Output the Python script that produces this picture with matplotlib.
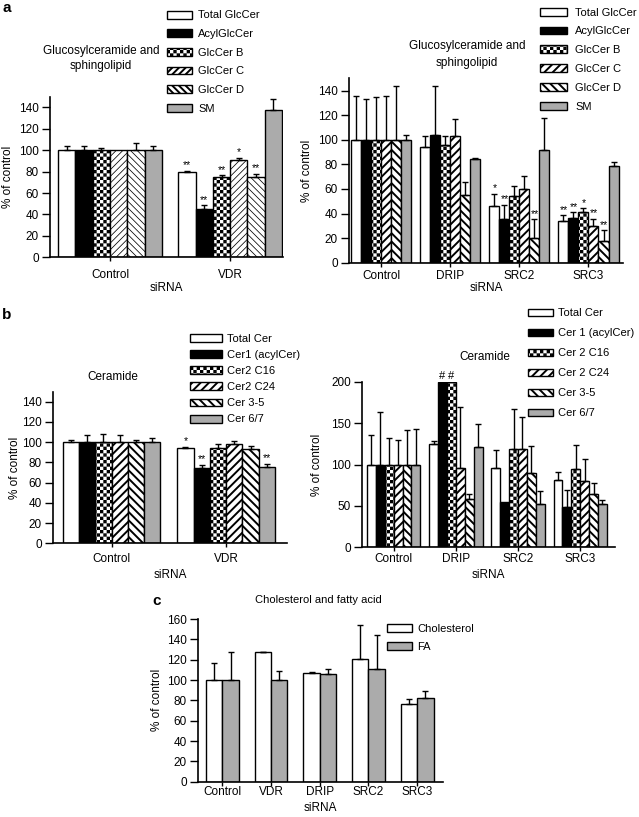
"""Lipid levels after siRNA knock-down: panels a (GlcCer/SM), b (ceramide), c (cholesterol/FA)."""
import numpy as np
import matplotlib
matplotlib.use("Agg")
import matplotlib.pyplot as plt
from matplotlib import hatch as mhatch
from matplotlib.path import Path

plt.rcParams["font.family"] = ["Liberation Sans", "DejaVu Sans"]
plt.rcParams["hatch.linewidth"] = 1.4

W, H = 639, 817

# ---- values (% of control) ----
glc_labels = ["Total GlcCer", "AcylGlcCer", "GlcCer B", "GlcCer C", "GlcCer D", "SM"]

a_left_groups = ["Control", "VDR"]
a_left_means = [[100, 79.5], [100, 45.0], [100, 75.4], [100, 90.4], [100, 75.0], [100, 137.3]]
a_left_errs = [[4.0, 1.0], [4.0, 3.4], [2.0, 1.0], [0.0, 2.4], [6.8, 3.0], [4.0, 10.3]]
a_left_marks = [["", "**"], ["", "**"], ["", "**"], ["", "*"], ["", "**"], ["", ""]]

a_right_groups = ["Control", "DRIP", "SRC2", "SRC3"]
a_right_means = [
    [100, 94.3, 46.4, 33.9],
    [100, 104.3, 35.3, 36.1],
    [100, 95.4, 54.5, 41.2],
    [100, 103.0, 60.2, 29.9],
    [100, 54.8, 20.4, 17.6],
    [100, 84.5, 91.6, 78.7],
]
a_right_errs = [
    [35.7, 8.7, 9.8, 4.6],
    [33.4, 39.5, 11.7, 4.9],
    [34.7, 8.1, 7.9, 3.0],
    [36.0, 14.0, 10.6, 5.7],
    [43.8, 11.2, 14.9, 8.7],
    [4.0, 0.5, 26.0, 3.3],
]
a_right_marks = [
    ["", "", "*", "**"],
    ["", "", "**", "**"],
    ["", "", "", "*"],
    ["", "", "", "**"],
    ["", "", "**", "**"],
    ["", "", "", ""],
]

b_left_labels = ["Total Cer", "Cer1 (acylCer)", "Cer2 C16", "Cer2 C24", "Cer 3-5", "Cer 6/7"]
b_left_groups = ["Control", "VDR"]
b_left_means = [[100, 94.7], [100, 74.0], [100, 94.7], [100, 98.0], [100, 93.0], [100, 75.6]]
b_left_errs = [[2.3, 0.4], [7.0, 3.3], [8.0, 3.7], [7.0, 3.6], [2.3, 3.4], [4.6, 3.0]]
b_left_marks = [["", "*"], ["", "**"], ["", ""], ["", ""], ["", ""], ["", "**"]]

b_right_labels = ["Total Cer", "Cer 1 (acylCer)", "Cer 2 C16", "Cer 2 C24", "Cer 3-5", "Cer 6/7"]
b_right_groups = ["Control", "DRIP", "SRC2", "SRC3"]
b_right_means = [
    [100, 124.6, 96.0, 81.5],
    [100, 200.0, 54.4, 48.8],
    [100, 200.0, 118.5, 94.4],
    [100, 95.6, 118.5, 80.2],
    [100, 58.5, 90.3, 64.1],
    [100, 120.6, 52.8, 52.8],
]
b_right_errs = [
    [35.5, 3.2, 21.7, 9.6],
    [64.0, 0.0, 0.0, 20.2],
    [31.9, 0.0, 48.8, 28.6],
    [29.0, 73.3, 38.4, 26.6],
    [41.5, 5.5, 31.5, 14.1],
    [42.3, 28.6, 15.7, 4.1],
]
b_right_marks = [
    ["", "", "", ""],
    ["", "#", "", ""],
    ["", "#", "", ""],
    ["", "", "", ""],
    ["", "", "", ""],
    ["", "", "", ""],
]

c_labels = ["Cholesterol", "FA"]
c_groups = ["Control", "VDR", "DRIP", "SRC2", "SRC3"]
c_means = [[100, 127.2, 106.9, 121.0, 76.7], [100, 100.0, 105.6, 111.1, 82.3]]
c_errs = [[17.0, 0.6, 1.1, 32.8, 4.9], [27.5, 9.0, 5.2, 33.5, 6.6]]
c_marks = [["", "", "", "", ""], ["", "", "", "", ""]]


# ---- chequerboard fill: takes over the 'O' hatch letter ----
class CheckerHatch(mhatch.HatchPatternBase):
    filled = True

    def __init__(self, hatch, density):
        self.cells = hatch.count("O") * density
        self.num_vertices = (self.cells * self.cells // 2) * 5

    def set_vertices_and_codes(self, vertices, codes):
        step = 1.0 / self.cells
        # the outline stroke widens each square, so shrink it by half a hatch line
        inset = plt.rcParams["hatch.linewidth"] / 72 / 2
        k = 0
        for i in range(self.cells):
            for j in range(self.cells):
                if (i + j) % 2:
                    continue
                x0, y0 = i * step + inset, j * step + inset
                x1, y1 = (i + 1) * step - inset, (j + 1) * step - inset
                vertices[k:k + 5] = [(x0, y0), (x1, y0), (x1, y1), (x0, y1), (x0, y0)]
                codes[k:k + 5] = [Path.MOVETO, Path.LINETO, Path.LINETO, Path.LINETO, Path.CLOSEPOLY]
                k += 5


mhatch._hatch_types = [CheckerHatch if t is mhatch.LargeCircles else t for t in mhatch._hatch_types]

GRAY = "#ababab"
six_colors = ["white", "black", "white", "white", "white", GRAY]
light_hatches = ["", "", "OOOOO", "/////", "\\\\\\\\\\", ""]
dark_hatches = ["", "", "OOOOO", "////", "\\\\\\\\", ""]

fig = plt.figure(figsize=(W / 100, H / 100), dpi=100)


def place_axes(left, top, right, bottom):
    return fig.add_axes([left / W, 1 - bottom / H, (right - left) / W, (bottom - top) / H])


def draw_panel(ax, box, groups, means, errs, marks, labels, colors, hatches, width,
               ylim, yticks, xlim, thin=False, xpad=3, ylabel_x=0, xlabel_y=0):
    left, top, right, bottom = box
    x = np.arange(len(groups))
    n = len(means)
    for i in range(n):
        pos = x + (i - (n - 1) / 2) * width
        bars = ax.bar(pos, means[i], width, color=colors[i], edgecolor="black", linewidth=1.0,
                      hatch=hatches[i] or None, label=labels[i], zorder=2)
        if thin and hatches[i] and hatches[i][0] in "/\\":
            for b in bars:
                if hasattr(b, "set_hatch_linewidth"):
                    b.set_hatch_linewidth(0.55)
        err = np.asarray(errs[i], float)
        val = np.asarray(means[i], float)
        keep = err > 0
        ax.errorbar(pos[keep], val[keep], yerr=[np.zeros(keep.sum()), err[keep]], fmt="none",
                    ecolor="black", elinewidth=1.0, capsize=2.5, capthick=1.0, zorder=3)
        for xi, yi, ei, m in zip(pos, val, err, marks[i]):
            if m:
                ax.annotate(m, (xi, yi + ei), xytext=(0, 0.5), textcoords="offset points",
                            ha="center", va="bottom", fontsize=8 if m.startswith("#") else 7.5)
    ax.set_xlim(*xlim)
    ax.set_ylim(*ylim)
    ax.set_yticks(yticks)
    ax.set_xticks(x, groups)
    ax.spines[["top", "right"]].set_visible(False)
    ax.spines[["left", "bottom"]].set_linewidth(1.2)
    ax.tick_params(axis="both", width=1.0, labelsize=8.5)
    ax.tick_params(axis="y", length=5.5, pad=2.5)
    ax.tick_params(axis="x", length=3, pad=xpad)
    ax.set_ylabel("% of control", fontsize=8.5)
    ax.set_xlabel("siRNA", fontsize=8.5)
    ax.yaxis.set_label_coords((ylabel_x + 6 - left) / (right - left), 0.5)
    ax.xaxis.set_label_coords(0.5, -(xlabel_y - 6 - bottom) / (bottom - top))


def add_legend(ax, handle_left, first_row, pitch, handle_w, text_x, fontsize=8):
    fs = fontsize * 100 / 72
    ax.legend(loc="upper left", bbox_to_anchor=(handle_left / W, 1 - (first_row - 4.5) / H),
              bbox_transform=fig.transFigure, frameon=False, fontsize=fontsize,
              handlelength=handle_w / fs, handleheight=0.7,
              handletextpad=(text_x - handle_left - handle_w) / fs,
              labelspacing=(pitch - 10.0) / fs, borderpad=0, borderaxespad=0)


# panel a, left
box = (50, 96.6, 283, 257.3)
ax = place_axes(*box)
draw_panel(ax, box, a_left_groups, a_left_means, a_left_errs, a_left_marks, glc_labels,
           six_colors, light_hatches, 0.144, (0, 150), range(0, 141, 20), (-0.5, 1.44),
           thin=True, xpad=5.6, ylabel_x=8, xlabel_y=288)
add_legend(ax, 167, 15, 18.6, 25, 198)

# panel a, right
box = (349, 78.4, 623, 262.7)
ax = place_axes(*box)
draw_panel(ax, box, a_right_groups, a_right_means, a_right_errs, a_right_marks, glc_labels,
           six_colors, dark_hatches, 0.145, (0, 150), range(0, 141, 20), (-0.47, 3.5),
           xpad=2.2, ylabel_x=307, xlabel_y=288)
add_legend(ax, 540, 12, 18.8, 27, 575)

# panel b, left
box = (53, 391.6, 287, 543.3)
ax = place_axes(*box)
draw_panel(ax, box, b_left_groups, b_left_means, b_left_errs, b_left_marks, b_left_labels,
           six_colors, dark_hatches, 0.142, (0, 150), range(0, 141, 20), (-0.51, 1.53),
           xpad=4, ylabel_x=15, xlabel_y=575)
add_legend(ax, 190, 338, 16.2, 32, 227)

# panel b, right
box = (362, 381.7, 615, 547.3)
ax = place_axes(*box)
draw_panel(ax, box, b_right_groups, b_right_means, b_right_errs, b_right_marks, b_right_labels,
           six_colors, dark_hatches, 0.143, (0, 200), range(0, 201, 50), (-0.51, 3.56),
           xpad=1.1, ylabel_x=317, xlabel_y=575)
add_legend(ax, 528, 313, 20, 25, 558)

# panel c
box = (198, 619, 443, 781.7)
ax = place_axes(*box)
draw_panel(ax, box, c_groups, c_means, c_errs, c_marks, c_labels,
           ["white", GRAY], ["", ""], 0.335, (0, 160), range(0, 161, 20), (-0.5, 4.53),
           xpad=0.3, ylabel_x=157, xlabel_y=808)
add_legend(ax, 387, 628, 18, 25, 417)

# titles and panel letters
fig.text(101 / W, 1 - 58.5 / H, "Glucosylceramide and\nsphingolipid", ha="center", va="center",
         fontsize=8.5, linespacing=1.3)
fig.text(467 / W, 1 - 54.5 / H, "Glucosylceramide and\nsphingolipid", ha="center", va="center",
         fontsize=8.5, linespacing=1.5)
fig.text(113 / W, 1 - 377 / H, "Ceramide", ha="center", va="center", fontsize=8.5)
fig.text(485 / W, 1 - 357 / H, "Ceramide", ha="center", va="center", fontsize=8.5)
fig.text(318 / W, 1 - 600 / H, "Cholesterol and fatty acid", ha="center", va="center", fontsize=8)
for letter, (lx, ly) in {"a": (7, 8), "b": (7, 315), "c": (157, 601)}.items():
    fig.text(lx / W, 1 - ly / H, letter, ha="center", va="center", fontsize=11, fontweight="bold")

fig.savefig("out.png", dpi=100)
